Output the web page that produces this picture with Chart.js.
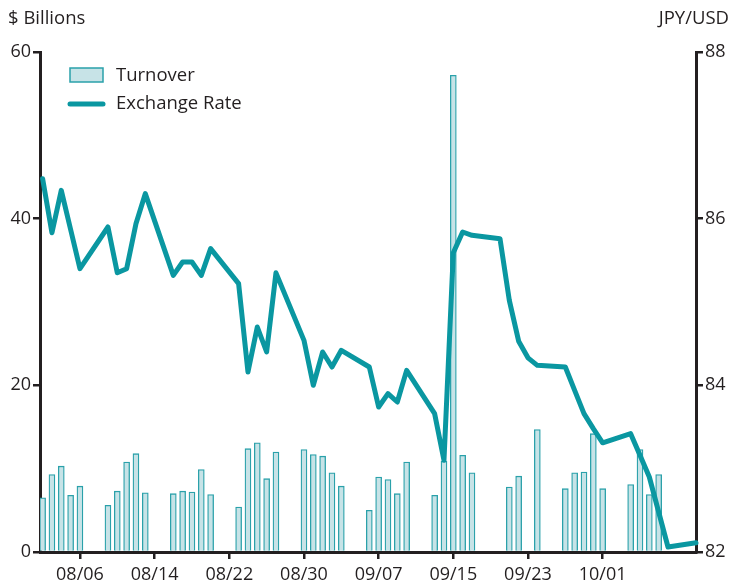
<!DOCTYPE html>
<html>
<head>
<meta charset="utf-8">
<script src="https://cdn.jsdelivr.net/npm/chart.js@4"></script>
<style>
  body { margin: 0; background: #fff; }
</style>
</head>
<body>
<canvas id="fx-chart" width="731" height="584"></canvas>
<script>
// turnover (Tokyo), $ billions, business days 2010
let turnoverDates = ["08/02","08/03","08/04","08/05","08/06",
  "08/09","08/10","08/11","08/12","08/13",
  "08/16","08/17","08/18","08/19","08/20",
  "08/23","08/24","08/25","08/26","08/27",
  "08/30","08/31","09/01","09/02","09/03",
  "09/06","09/07","09/08","09/09","09/10",
  "09/13","09/14","09/15","09/16","09/17",
  "09/21","09/22","09/24",
  "09/27","09/28","09/29","09/30","10/01",
  "10/04","10/05","10/06","10/07"];
let turnover = [6.5, 9.3, 10.3, 6.8, 7.9,
  5.6, 7.3, 10.8, 11.8, 7.1,
  7.0, 7.3, 7.2, 9.9, 6.9,
  5.4, 12.4, 13.1, 8.8, 12.0,
  12.3, 11.7, 11.5, 9.5, 7.9,
  5.0, 9.0, 8.7, 7.0, 10.8,
  6.8, 10.9, 57.2, 11.6, 9.5,
  7.8, 9.1, 14.7,
  7.6, 9.5, 9.6, 14.2, 7.6,
  8.1, 12.3, 6.9, 9.3];

// JPY per USD
let rateDates = ["08/02","08/03","08/04","08/05","08/06",
  "08/09","08/10","08/11","08/12","08/13",
  "08/16","08/17","08/18","08/19","08/20",
  "08/23","08/24","08/25","08/26","08/27",
  "08/30","08/31","09/01","09/02","09/03",
  "09/06","09/07","09/08","09/09","09/10",
  "09/13","09/14","09/15","09/16","09/17",
  "09/20","09/21","09/22","09/23","09/24",
  "09/27","09/28","09/29","09/30","10/01",
  "10/04","10/05","10/06","10/07","10/08",
  "10/11"];
let rate = [86.48, 85.83, 86.34, 85.87, 85.40,
  85.90, 85.35, 85.40, 85.94, 86.30,
  85.32, 85.48, 85.48, 85.32, 85.64,
  85.22, 84.16, 84.70, 84.40, 85.35,
  84.54, 84.00, 84.40, 84.22, 84.42,
  84.22, 83.74, 83.90, 83.80, 84.18,
  83.66, 83.10, 85.59, 85.84, 85.80,
  85.76, 85.02, 84.53, 84.33, 84.24,
  84.22, 83.94, 83.66, 83.48, 83.31,
  83.42, 83.16, 82.90, 82.48, 82.06,
  82.11];

let tickLabels = ["08/06","08/14","08/22","08/30","09/07","09/15","09/23","10/01"];
let leftTicks = [0, 20, 40, 60];
let rightTicks = [82, 84, 86, 88];

let ink = "#231f20";
let teal = "#0a97a1";
let barFill = "#c7e3e7";
let barEdge = "#2aa1aa";
let font = "'Open Sans', 'Noto Sans', sans-serif";

// day number counted from Aug 1
function dayNum(s) {
  let m = parseInt(s.slice(0, 2), 10);
  let d = parseInt(s.slice(3), 10);
  if (m == 8) return d - 1;
  if (m == 9) return 30 + d;
  return 60 + d;
}
function dayLabel(v) {
  let i = tickLabels.findIndex(t => dayNum(t) == v);
  return i >= 0 ? tickLabels[i] : "";
}

let barData = turnoverDates.map((d, i) => ({ x: dayNum(d), y: turnover[i] }));
let lineData = rateDates.map((d, i) => ({ x: dayNum(d), y: rate[i] }));

// legend drawn inside the plot, top left
let insideLegend = {
  id: "insideLegend",
  afterDraw(chart) {
    let ctx = chart.ctx;
    ctx.save();
    ctx.fillStyle = barFill;
    ctx.strokeStyle = barEdge;
    ctx.lineWidth = 1.5;
    ctx.fillRect(70, 68, 33, 14);
    ctx.strokeRect(70, 68, 33, 14);
    ctx.strokeStyle = teal;
    ctx.lineWidth = 5;
    ctx.lineCap = "round";
    ctx.beginPath();
    ctx.moveTo(70, 104);
    ctx.lineTo(103, 104);
    ctx.stroke();
    ctx.fillStyle = ink;
    ctx.font = "18.5px " + font;
    ctx.textBaseline = "middle";
    ctx.fillText(chart.data.datasets[0].label, 116, 76);
    ctx.fillText(chart.data.datasets[1].label, 116, 104);
    ctx.restore();
  }
};

// units over each axis
let unitLabels = {
  id: "unitLabels",
  afterDraw(chart) {
    let ctx = chart.ctx;
    ctx.save();
    ctx.fillStyle = ink;
    ctx.font = "18.5px " + font;
    ctx.textBaseline = "middle";
    ctx.textAlign = "left";
    ctx.fillText("$ Billions", 8, 19);
    ctx.textAlign = "right";
    ctx.fillText("JPY/USD", 729, 19);
    ctx.restore();
  }
};

let axisGrid = {
  display: true,
  drawOnChartArea: false,
  drawTicks: true,
  tickLength: 7,
  color: ink,
  lineWidth: 2.5,
  offset: false
};
let axisBorder = { display: true, color: ink, width: 3 };

let canvas = document.getElementById("fx-chart");
let ctx = canvas.getContext("2d");
let chart = new Chart(ctx, {
  type: "bar",
  data: {
    datasets: [{
      type: "bar",
      label: "Turnover",
      data: barData,
      yAxisID: "y",
      backgroundColor: barFill,
      borderColor: barEdge,
      borderWidth: 1.3,
      barThickness: 6,
      order: 2
    }, {
      type: "line",
      label: "Exchange Rate",
      data: lineData,
      yAxisID: "y2",
      borderColor: teal,
      borderWidth: 5,
      pointRadius: 0,
      tension: 0,
      borderJoinStyle: "round",
      borderCapStyle: "round",
      clip: false,
      order: 1
    }]
  },
  options: {
    responsive: false,
    animation: false,
    layout: { padding: { top: 52, left: 0, right: 0, bottom: 0 } },
    plugins: {
      legend: { display: false },
      tooltip: { enabled: false }
    },
    scales: {
      x: {
        type: "linear",
        min: 0.72,
        max: 71,
        offset: false,
        grid: axisGrid,
        border: axisBorder,
        afterBuildTicks: s => { s.ticks = tickLabels.map(t => ({ value: dayNum(t) })); },
        afterFit: s => { s.height = 32; },
        ticks: {
          callback: v => dayLabel(v),
          color: ink,
          font: { family: font, size: 18 },
          padding: 5,
          maxRotation: 0
        }
      },
      y: {
        position: "left",
        min: 0,
        max: 60,
        grid: axisGrid,
        border: axisBorder,
        afterBuildTicks: s => { s.ticks = leftTicks.map(v => ({ value: v })); },
        afterFit: s => { s.width = 40; },
        ticks: { color: ink, font: { family: font, size: 18 }, padding: 2 }
      },
      y2: {
        position: "right",
        min: 82,
        max: 88,
        grid: axisGrid,
        border: axisBorder,
        afterBuildTicks: s => { s.ticks = rightTicks.map(v => ({ value: v })); },
        afterFit: s => { s.width = 35; },
        ticks: { color: ink, font: { family: font, size: 18 }, padding: 2 }
      }
    }
  },
  plugins: [insideLegend, unitLabels]
});
</script>
</body>
</html>
